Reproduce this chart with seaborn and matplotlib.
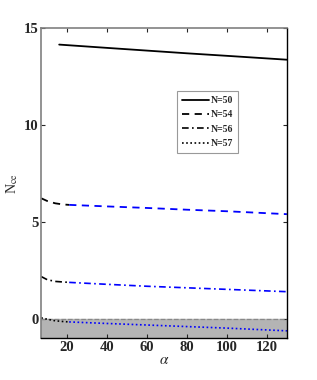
import numpy as np
import pandas as pd
import matplotlib
matplotlib.use("Agg")
import matplotlib.pyplot as plt
import seaborn as sns
from matplotlib.lines import Line2D

sns.set_style("ticks")
plt.rcParams['font.family'] = ['Liberation Serif', 'DejaVu Serif']
plt.rcParams['mathtext.fontset'] = 'stix'

# N=50 (solid black)
alpha_50 = [16, 40, 60, 80, 100, 130]
n50 = [14.15, 13.98, 13.84, 13.70, 13.57, 13.37]

# N=54 (dashed) black start, blue after alpha~20
alpha_54a = [7, 10, 14, 18, 21]
n54a = [6.22, 6.08, 5.96, 5.90, 5.88]
alpha_54b = [21, 40, 60, 80, 100, 130]
n54b = [5.88, 5.80, 5.72, 5.63, 5.55, 5.40]

# N=56 (dash-dot)
alpha_56a = [7, 10, 14, 18, 21]
n56a = [2.18, 2.02, 1.93, 1.90, 1.88]
alpha_56b = [21, 40, 60, 80, 100, 130]
n56b = [1.88, 1.78, 1.68, 1.60, 1.52, 1.40]

# N=57 (dotted)
alpha_57a = [7, 10, 14, 18, 21]
n57a = [0.05, -0.02, -0.10, -0.14, -0.16]
alpha_57b = [21, 40, 60, 80, 100, 130]
n57b = [-0.16, -0.24, -0.32, -0.40, -0.48, -0.62]

labels = ['N=50', 'N=54', 'N=56', 'N=57']

fig, ax = plt.subplots(figsize=(3.17, 3.8), dpi=100)
fig.subplots_adjust(left=0.13, right=0.905, top=0.926, bottom=0.11)

ax.axhspan(-1, 0, color='#b4b4b4', zorder=0)
ax.axhline(0, color='#888888', ls='--', lw=0.9, zorder=1)

sns.lineplot(x=alpha_50, y=n50, ax=ax, color='black', lw=1.3)
sns.lineplot(x=alpha_54a, y=n54a, ax=ax, color='black', lw=1.3, ls=(0, (4, 3)))
sns.lineplot(x=alpha_54b, y=n54b, ax=ax, color='blue', lw=1.3, ls=(0, (4, 3)))
sns.lineplot(x=alpha_56a, y=n56a, ax=ax, color='black', lw=1.2, ls=(0, (4, 2, 1, 2)))
sns.lineplot(x=alpha_56b, y=n56b, ax=ax, color='blue', lw=1.2, ls=(0, (4, 2, 1, 2)))
sns.lineplot(x=alpha_57a, y=n57a, ax=ax, color='black', lw=1.2, ls=(0, (1, 1.5)))
sns.lineplot(x=alpha_57b, y=n57b, ax=ax, color='blue', lw=1.2, ls=(0, (1, 1.5)))

ax.set_xlim(7, 130)
ax.set_ylim(-1, 15)
ax.set_xticks([20, 40, 60, 80, 100, 120])
ax.set_yticks([0, 5, 10, 15])
ax.tick_params(direction='in', top=True, right=True, length=3, labelsize=10.5, pad=2)
for lab in ax.get_xticklabels() + ax.get_yticklabels():
    lab.set_fontweight('bold')
for s in ['left', 'top']:
    ax.spines[s].set_color('#808080')
    ax.spines[s].set_linewidth(1.2)
for s in ['right', 'bottom']:
    ax.spines[s].set_color('black')
    ax.spines[s].set_linewidth(1.0)

ax.set_xlabel(r'$\alpha$', fontsize=11, labelpad=0)
ax.set_ylabel(r'N$_{\rm ce}$', fontsize=10, labelpad=3)

handles = [
    Line2D([], [], color='black', lw=1.3),
    Line2D([], [], color='black', lw=1.3, ls=(0, (4, 3))),
    Line2D([], [], color='black', lw=1.2, ls=(0, (4, 2, 1, 2))),
    Line2D([], [], color='black', lw=1.2, ls=(0, (1, 1.5))),
]
leg = ax.legend(handles, labels, loc='upper left', bbox_to_anchor=(0.553, 0.798),
                prop={'weight': 'bold', 'size': 7}, frameon=True, fancybox=False,
                handlelength=2.7, handletextpad=0.2, borderpad=0.55, labelspacing=0.55,
                borderaxespad=0)
leg.get_frame().set_edgecolor('#808080')
leg.get_frame().set_linewidth(0.8)

plt.savefig('out.png', dpi=100)
